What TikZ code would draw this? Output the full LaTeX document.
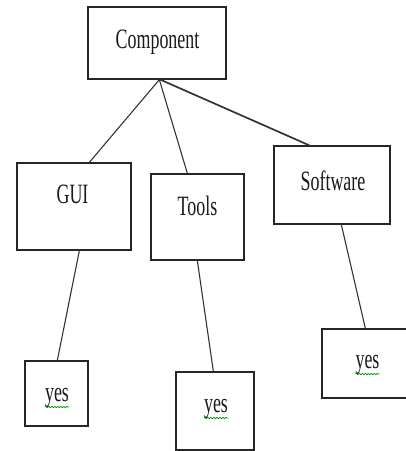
\documentclass[tikz,border=0pt]{standalone}
\usepackage{fontspec}
\setmainfont{Liberation Serif}
\usetikzlibrary{calc,decorations.pathmorphing}
\tikzset{
  box/.style={draw=black!85, line width=1.3pt, rectangle, inner sep=0pt},
  lbl/.style={anchor=base, inner sep=0pt, font=\fontsize{28}{30}\selectfont, text=black!90},
  link/.style={draw=black!80, line width=1.1pt},
  squig/.style={draw=green!55!black, line width=0.7pt, decorate, decoration={snake, amplitude=0.7pt, segment length=3pt}}
}
\newcommand{\sq}[1]{\scalebox{0.64}[1]{#1}}
\begin{document}
\begin{tikzpicture}[x=1pt,y=-1pt]
\useasboundingbox (0,0) rectangle (406,451);
\clip (0,0) rectangle (406,451);
% boxes
\node[box, minimum width=138pt, minimum height=72pt] (comp) at (157,43) {};
\node[box, minimum width=114pt, minimum height=87pt] (gui) at (74,206.5) {};
\node[box, minimum width=93pt, minimum height=86pt] (tools) at (197.5,217) {};
\node[box, minimum width=116pt, minimum height=78pt] (soft) at (332,185) {};
\node[box, minimum width=63pt, minimum height=65pt] (yes1) at (56.5,393.5) {};
\node[box, minimum width=78pt, minimum height=78pt] (yes2) at (215,411) {};
\node[box, minimum width=92pt, minimum height=69pt] (yes3) at (368,363.5) {};
% labels
\node[lbl] (tcomp) at (157.5,48) {\sq{Component}};
\node[lbl] (tgui) at (72.5,203) {\sq{GUI}};
\node[lbl] (ttools) at (197.5,215) {\sq{Tools}};
\node[lbl] (tsoft) at (333,190) {\sq{Software}};
\node[lbl] (tyes1) at (57,401) {\sq{yes}};
\node[lbl] (tyes2) at (216,412) {\sq{yes}};
\node[lbl] (tyes3) at (367.5,368) {\sq{yes}};
% spelling squiggles
\draw[squig] ($(tyes1.base west)+(0,6)$) -- ($(tyes1.base east)+(0,6)$);
\draw[squig] ($(tyes2.base west)+(0,6)$) -- ($(tyes2.base east)+(0,6)$);
\draw[squig] ($(tyes3.base west)+(0,6)$) -- ($(tyes3.base east)+(0,6)$);
% connectors
\draw[link] ($(comp.south west)+(72,0)$) -- ($(gui.north west)+(73,0)$);
\draw[link] ($(comp.south west)+(72,0)$) -- ($(tools.north west)+(37,0)$);
\draw[link, line width=1.7pt] ($(comp.south west)+(73,0)$) -- ($(soft.north west)+(36,0)$);
\draw[link] ($(gui.south west)+(63,0)$) -- ($(yes1.north west)+(33,0)$);
\draw[link] ($(tools.south west)+(47,0)$) -- ($(yes2.north west)+(38,0)$);
\draw[link] ($(soft.south west)+(68,0)$) -- ($(yes3.north west)+(44,0)$);
\end{tikzpicture}
\end{document}
